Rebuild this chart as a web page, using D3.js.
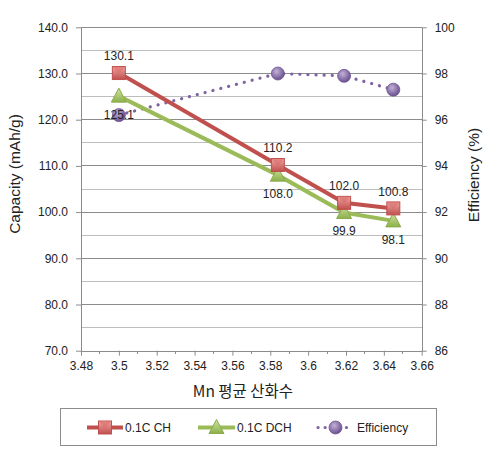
<!DOCTYPE html>
<html><head><meta charset="utf-8">
<script src="https://cdn.jsdelivr.net/npm/d3@7"></script>
<style>body{margin:0;background:#fff}</style>
</head><body>
<script>
const xValues = [3.5, 3.584, 3.619, 3.645];
const chValues = [130.1, 110.2, 102.0, 100.8];
const dchValues = [125.1, 108.0, 99.9, 98.1];
const effValues = [96.2, 98.0, 97.9, 97.3];
const xTicks = [3.48, 3.5, 3.52, 3.54, 3.56, 3.58, 3.6, 3.62, 3.64, 3.66];
const leftTicks = [70, 80, 90, 100, 110, 120, 130, 140];
const rightTicks = [86, 88, 90, 92, 94, 96, 98, 100];
const seriesNames = ["0.1C CH", "0.1C DCH", "Efficiency"];

const W = 491, H = 454;
const m = {l: 81, r: 421.7, t: 27.3, b: 350.7};
const font = "'Liberation Sans', Arial, sans-serif";
const svg = d3.select("body").append("svg").attr("width", W).attr("height", H);

const defs = svg.append("defs");
function grad(id, c1, c2) {
  const g = defs.append("linearGradient").attr("id", id).attr("x1", 0).attr("y1", 0).attr("x2", 0).attr("y2", 1);
  g.append("stop").attr("offset", "0%").attr("stop-color", c1);
  g.append("stop").attr("offset", "100%").attr("stop-color", c2);
}
grad("gR", "#f0a5a3", "#c0504d");
grad("gG", "#cfe3a3", "#8db04a");
const rg = defs.append("radialGradient").attr("id", "gP").attr("cx", "40%").attr("cy", "35%").attr("r", "65%");
rg.append("stop").attr("offset", "0%").attr("stop-color", "#c2b1d8");
rg.append("stop").attr("offset", "100%").attr("stop-color", "#6a4f8f");

const x = d3.scaleLinear().domain([3.48, 3.66]).range([m.l, m.r]);
const yL = d3.scaleLinear().domain([70, 140]).range([m.b, m.t]);
const yR = d3.scaleLinear().domain([86, 100]).range([m.b, m.t]);

// gridlines
const minor = d3.range(75, 140, 10);
svg.append("g").selectAll("line").data(minor).join("line")
  .attr("x1", m.l).attr("x2", m.r).attr("y1", d => yL(d)).attr("y2", d => yL(d))
  .attr("stroke", "#bdbdbd").attr("stroke-width", 1).attr("shape-rendering", "crispEdges");
svg.append("g").selectAll("line").data(leftTicks.slice(1)).join("line")
  .attr("x1", m.l).attr("x2", m.r).attr("y1", d => yL(d)).attr("y2", d => yL(d))
  .attr("stroke", "#8c8c8c").attr("stroke-width", 1).attr("shape-rendering", "crispEdges");

// axes
function styleAxis(g) {
  g.selectAll(".domain").attr("stroke", "#8c8c8c");
  g.selectAll(".tick line").attr("stroke", "#8c8c8c");
  g.selectAll("text").attr("font-family", font).attr("font-size", "12px").attr("fill", "#222");
}
const gx = svg.append("g").attr("transform", `translate(0,${m.b})`)
  .call(d3.axisBottom(x).tickValues(xTicks).tickFormat(d => d3.format("")(+d.toFixed(2))).tickSize(5).tickSizeOuter(0).tickPadding(6));
styleAxis(gx);
svg.append("g").selectAll("line").data(d3.range(3.49, 3.66, 0.02)).join("line")
  .attr("x1", d => x(d)).attr("x2", d => x(d)).attr("y1", m.b).attr("y2", m.b + 3)
  .attr("stroke", "#8c8c8c").attr("shape-rendering", "crispEdges");

const gl = svg.append("g").attr("transform", `translate(${m.l},0)`)
  .call(d3.axisLeft(yL).tickValues(leftTicks).tickFormat(d3.format(".1f")).tickSize(5).tickSizeOuter(0).tickPadding(8));
styleAxis(gl);
const gr = svg.append("g").attr("transform", `translate(${m.r},0)`)
  .call(d3.axisRight(yR).tickValues(rightTicks).tickFormat(d3.format("d")).tickSize(5).tickSizeOuter(0).tickPadding(8));
styleAxis(gr);
svg.selectAll(".domain").attr("shape-rendering", "crispEdges");

// axis titles
svg.append("text").attr("transform", `translate(20,174) rotate(-90)`)
  .attr("text-anchor", "middle").attr("font-family", font).attr("font-size", "15.5px").attr("fill", "#222")
  .text("Capacity (mAh/g)");
svg.append("text").attr("transform", `translate(479,175) rotate(-90)`)
  .attr("text-anchor", "middle").attr("font-family", font).attr("font-size", "15.5px").attr("fill", "#222")
  .text("Efficiency (%)");
svg.append("text").attr("x", 243).attr("y", 397)
  .attr("text-anchor", "middle").attr("font-family", "'Noto Sans CJK KR', sans-serif").attr("font-size", "15.5px").attr("fill", "#222")
  .text("Mn 평균 산화수");

const pts = xValues.map((v, i) => ({x: v, ch: chValues[i], dch: dchValues[i], eff: effValues[i]}));

// efficiency dotted
svg.append("path").datum(pts).attr("fill", "none").attr("stroke", "#8064a2").attr("stroke-width", 3.2)
  .attr("stroke-linecap", "round").attr("stroke-dasharray", "0.1 8")
  .attr("d", d3.line().x(d => x(d.x)).y(d => yR(d.eff)));

// lines
svg.append("path").datum(pts).attr("fill", "none").attr("stroke", "#9bbb59").attr("stroke-width", 4)
  .attr("d", d3.line().x(d => x(d.x)).y(d => yL(d.dch)));
svg.append("path").datum(pts).attr("fill", "none").attr("stroke", "#c0504d").attr("stroke-width", 4)
  .attr("d", d3.line().x(d => x(d.x)).y(d => yL(d.ch)));

function square(g, cx, cy) {
  g.append("rect").attr("x", cx - 6.5).attr("y", cy - 6.5).attr("width", 13).attr("height", 13)
    .attr("fill", "url(#gR)").attr("stroke", "#c0504d").attr("stroke-width", 1);
  g.append("path").attr("d", `M${cx - 6},${cy - 6}L${cx + 6},${cy - 6}L${cx},${cy + 1}Z`).attr("fill", "#d9706d").attr("opacity", 0.6);
}
function tri(g, cx, cy) {
  g.append("path").attr("d", `M${cx},${cy - 8}L${cx + 7.5},${cy + 6}L${cx - 7.5},${cy + 6}Z`)
    .attr("fill", "url(#gG)").attr("stroke", "#8aab4c").attr("stroke-width", 1);
}
function circ(g, cx, cy) {
  g.append("circle").attr("cx", cx).attr("cy", cy).attr("r", 6.5).attr("fill", "url(#gP)").attr("stroke", "#6d5490").attr("stroke-width", 0.8);
}

const mk = svg.append("g");
pts.forEach(d => circ(mk, x(d.x), yR(d.eff)));
pts.forEach(d => tri(mk, x(d.x), yL(d.dch)));
pts.forEach(d => square(mk, x(d.x), yL(d.ch)));

// data labels
svg.append("g").selectAll("text").data(pts).join("text")
  .attr("x", d => x(d.x)).attr("y", d => yL(d.ch) - 17).attr("dy", "0.35em")
  .attr("text-anchor", "middle").attr("font-family", font).attr("font-size", "12px").attr("fill", "#222")
  .text(d => d.ch.toFixed(1));
svg.append("g").selectAll("text").data(pts).join("text")
  .attr("x", d => x(d.x)).attr("y", d => yL(d.dch) + 18.5).attr("dy", "0.35em")
  .attr("text-anchor", "middle").attr("font-family", font).attr("font-size", "12px").attr("fill", "#222")
  .text(d => d.dch.toFixed(1));

// legend
svg.append("rect").attr("x", 60.5).attr("y", 408.5).attr("width", 376).attr("height", 37)
  .attr("fill", "#fff").attr("stroke", "#8c8c8c").attr("stroke-width", 1);
const ly = 427.5;
const lg = svg.append("g");
const items = [
  {x1: 87, x2: 123, tx: 125, color: "#c0504d", draw: square},
  {x1: 198, x2: 235, tx: 237, color: "#9bbb59", draw: tri},
  {x1: 318, x2: 353, tx: 357, color: "#8064a2", draw: circ, dotted: true}
];
items.forEach((it, i) => {
  const ln = lg.append("line").attr("x1", it.x1).attr("x2", it.x2).attr("y1", ly).attr("y2", ly)
    .attr("stroke", it.color).attr("stroke-width", it.dotted ? 3.2 : 4);
  if (it.dotted) ln.attr("stroke-dasharray", "0.1 7").attr("stroke-linecap", "round");
  it.draw(lg, (it.x1 + it.x2) / 2, ly);
  lg.append("text").attr("x", it.tx).attr("y", ly).attr("dy", "0.35em")
    .attr("font-family", font).attr("font-size", "12px").attr("fill", "#222").text(seriesNames[i]);
});
</script>
</body></html>
